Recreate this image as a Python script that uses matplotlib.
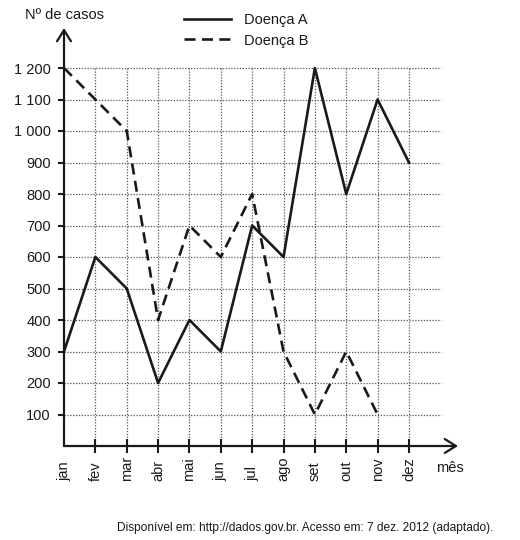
import numpy as np
from matplotlib import pyplot as plt

# DATA ########################################################################

meses = ["jan", "fev", "mar", "abr", "mai", "jun",
         "jul", "ago", "set", "out", "nov", "dez"]
doenca_a = [300, 600, 500, 200, 400, 300, 700, 600, 1200, 800, 1100, 900]
doenca_b = [1200, 1100, 1000, 400, 700, 600, 800, 300, 100, 300, 100]
y_ticks = [100, 200, 300, 400, 500, 600, 700, 800, 900, 1000, 1100, 1200]
y_labels = ["100", "200", "300", "400", "500", "600", "700", "800", "900",
            "1 000", "1 100", "1 200"]

plt.rcParams["font.family"] = ["Liberation Sans", "DejaVu Sans"]

# PLOT ########################################################################

fig = plt.figure(figsize=(5.2, 5.4), dpi=100)
ax = fig.add_axes([64 / 520, 94 / 540, 394 / 520, 418 / 540])

x = np.arange(len(meses))
x_max = (458 - 64) / 31.36
y_max = 418 / 0.315

ax.set_xlim(0, x_max)
ax.set_ylim(0, y_max)

# grid (dotted)
ax.hlines(y_ticks, 0, 12.02, colors="#555555", linestyles=(0, (1, 1.3)), lw=0.9, zorder=1)
ax.vlines(x[1:], 0, max(y_ticks), colors="#555555", linestyles=(0, (1, 1.3)), lw=0.9, zorder=1)

# series
ax.plot(x, doenca_a, "-", color="#1a1a1a", lw=1.9, label="Doença A", zorder=3)
ax.plot(x[:len(doenca_b)], doenca_b, color="#1a1a1a", lw=1.9,
        linestyle=(0, (4.2, 2.4)), label="Doença B", zorder=3)

# axes with arrows
for s in ax.spines.values():
    s.set_visible(False)
for tip in [(x_max, 0), (0, y_max)]:
    ax.annotate("", xy=tip, xytext=(0, 0),
                arrowprops=dict(arrowstyle="->,head_length=0.8,head_width=0.5",
                                lw=1.6, color="#1a1a1a", shrinkA=0, shrinkB=0),
                annotation_clip=False)

ax.set_yticks(y_ticks)
ax.set_yticklabels(y_labels, fontsize=10.5, color="#1a1a1a")
ax.tick_params(axis="y", direction="out", length=4, width=1.5, pad=5.5, color="#1a1a1a")

ax.set_xticks(x[1:])
ax.set_xticklabels([])
ax.tick_params(axis="x", direction="inout", length=9.5, width=1.5, color="#1a1a1a")

for i, m in enumerate(meses):
    ax.text(i, -35 / 418, m, rotation=90, ha="center", va="bottom",
            fontsize=10.5, color="#1a1a1a", transform=ax.get_xaxis_transform())

fig.text(436 / 520, 1 - 468 / 540, "mês", fontsize=10.5, color="#1a1a1a",
         ha="left", va="center")
fig.text(25 / 520, 1 - 15 / 540, "Nº de casos", fontsize=10.5, color="#1a1a1a",
         ha="left", va="center")

ax.legend(loc="upper left", bbox_to_anchor=(184 / 520, 1 - 13 / 540),
          bbox_transform=fig.transFigure, frameon=False, fontsize=10.5,
          handlelength=3.2, handletextpad=0.9, labelspacing=0.45,
          borderpad=0, borderaxespad=0, labelcolor="#1a1a1a")

fig.text(493 / 520, 1 - 528 / 540,
         "Disponível em: http://dados.gov.br. Acesso em: 7 dez. 2012 (adaptado).",
         fontsize=8.6, color="#1a1a1a", ha="right", va="center")

fig.savefig("out.png", dpi=100)
